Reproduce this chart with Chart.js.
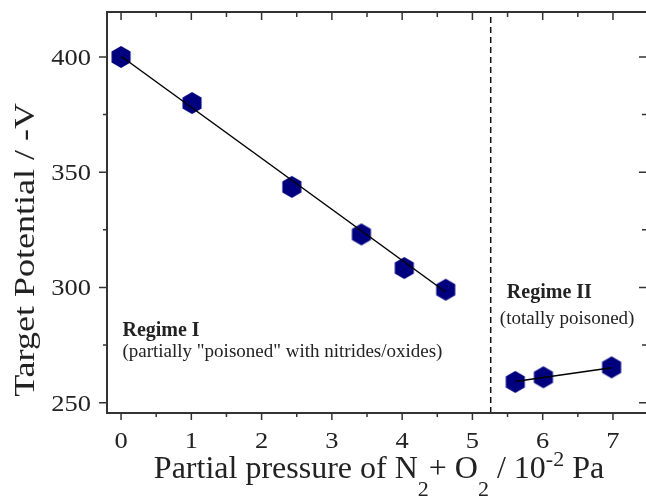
<!DOCTYPE html>
<html>
<head>
<meta charset="utf-8">
<script src="https://cdn.jsdelivr.net/npm/chart.js@4.4.1/dist/chart.umd.min.js"></script>
<style>
  html, body { margin: 0; padding: 0; background: #fff; overflow: hidden; }
  canvas { display: block; }
</style>
</head>
<body>
<canvas id="mainChart" width="646" height="501"></canvas>
<script>
// measured points, regime I (partially poisoned) and regime II (totally poisoned)
const pressure1 = [0, 1.01, 2.43, 3.42, 4.03, 4.62];
const potential1 = [400, 380, 343.6, 323, 308.4, 299];
const pressure2 = [5.61, 6.01, 6.98];
const potential2 = [259, 261, 265.3];

// linear fits drawn through each regime
const fitX1 = [0, 4.62];
const fitY1 = [400.3, 298];
const fitX2 = [5.61, 6.98];
const fitY2 = [259.2, 265.1];

// boundary between the two regimes
const regimeBoundary = 5.26;

// axis ticks
const xTicks = [0, 1, 2, 3, 4, 5, 6, 7];
const xMinor = [0.5, 1.5, 2.5, 3.5, 4.5, 5.5, 6.5];
const yTicks = [250, 300, 350, 400];
const yMinor = [275, 325, 375];
const xRange = [-0.2, 7.47];
const yRange = [245.5, 419.5];

const SERIF = "'Liberation Serif', 'Times New Roman', serif";

const toPts = (xs, ys) => xs.map((x, i) => ({ x: x, y: ys[i] }));

// hexagon marker as a canvas pointStyle
function hexMarker(r, color) {
    const c = document.createElement('canvas');
    const w = Math.ceil(r * 2 + 2), h = Math.ceil(r * 2 + 2);
    c.width = w; c.height = h;
    const g = c.getContext('2d');
    g.fillStyle = color;
    g.beginPath();
    for (let k = 0; k < 6; k++) {
        const a = Math.PI / 2 + k * Math.PI / 3;
        const px = w / 2 + r * Math.cos(a), py = h / 2 + r * Math.sin(a);
        k === 0 ? g.moveTo(px, py) : g.lineTo(px, py);
    }
    g.closePath();
    g.fill();
    return c;
}
const hex = hexMarker(11, '#00007f');

// frame, ticks, tick labels, titles and regime notes
const framePlugin = {
    id: 'framePlugin',
    afterDraw(chart) {
        const ctx = chart.ctx, a = chart.chartArea;
        const xs = chart.scales.x, ys = chart.scales.y;
        ctx.save();
        ctx.strokeStyle = '#333';
        ctx.lineWidth = 2;
        // right edge of the box sits just past the canvas
        ctx.strokeRect(a.left, a.top, a.right - a.left + 2, a.bottom - a.top);

        ctx.lineWidth = 1.5;
        ctx.beginPath();
        const xt = (v, maj) => {
            const p = xs.getPixelForValue(v);
            ctx.moveTo(p, a.bottom); ctx.lineTo(p, a.bottom + (maj ? 7 : 4));
            ctx.moveTo(p, a.top); ctx.lineTo(p, a.top + (maj ? 8 : 5));
        };
        const yt = (v, maj) => {
            const p = ys.getPixelForValue(v);
            ctx.moveTo(a.left, p); ctx.lineTo(a.left - (maj ? 8 : 4), p);
            ctx.moveTo(a.right, p); ctx.lineTo(a.right - (maj ? 7 : 4), p);
        };
        xTicks.forEach(v => xt(v, true));
        xMinor.forEach(v => xt(v, false));
        yTicks.forEach(v => yt(v, true));
        yMinor.forEach(v => yt(v, false));
        ctx.stroke();

        // tick labels (slightly wide serif digits)
        ctx.fillStyle = '#222';
        ctx.font = '23px ' + SERIF;
        ctx.textBaseline = 'alphabetic';
        ctx.textAlign = 'center';
        xTicks.forEach(v => {
            ctx.save();
            ctx.translate(xs.getPixelForValue(v), a.bottom + 35);
            ctx.scale(1.15, 1);
            ctx.fillText(String(v), 0, 0);
            ctx.restore();
        });
        ctx.textAlign = 'right';
        yTicks.forEach(v => {
            ctx.save();
            ctx.translate(a.left - 16, ys.getPixelForValue(v) + 8);
            ctx.scale(1.15, 1);
            ctx.fillText(String(v), 0, 0);
            ctx.restore();
        });

        // y title
        ctx.save();
        ctx.translate(34, 250);
        ctx.rotate(-Math.PI / 2);
        ctx.scale(1.2, 1);
        ctx.textAlign = 'center';
        ctx.font = '30px ' + SERIF;
        ctx.fillText('Target Potential / -V', 0, 0);
        ctx.restore();

        // x title with sub/superscripts
        const parts = [
            ['Partial pressure of N', 0], ['2', 1], ['+ O', 0], ['2', 1],
            [' / 10', 0], ['-2', 2], [' Pa', 0]
        ];
        const fontFor = m => (m === 0 ? '32px ' : '22px ') + SERIF;
        let total = 0;
        parts.forEach(([t, m]) => { ctx.font = fontFor(m); total += ctx.measureText(t).width; });
        let cx = 379 - total / 2;
        const base = 478;
        ctx.textAlign = 'left';
        parts.forEach(([t, m]) => {
            ctx.font = fontFor(m);
            const dy = m === 1 ? 18 : (m === 2 ? -12 : 0);
            ctx.fillText(t, cx, base + dy);
            cx += ctx.measureText(t).width;
        });

        // regime notes
        ctx.textBaseline = 'middle';
        ctx.textAlign = 'left';
        ctx.font = 'bold 20px ' + SERIF;
        ctx.fillText('Regime I', xs.getPixelForValue(0.02), ys.getPixelForValue(281));
        ctx.fillText('Regime II', xs.getPixelForValue(5.49), ys.getPixelForValue(297.6));
        ctx.font = '19px ' + SERIF;
        ctx.fillText('(partially "poisoned" with nitrides/oxides)', xs.getPixelForValue(0.02), ys.getPixelForValue(272));
        ctx.fillText('(totally poisoned)', xs.getPixelForValue(5.39), ys.getPixelForValue(286.3));
        ctx.restore();
    }
};

const markerStyle = { pointStyle: hex, pointRadius: 11, showLine: false, order: 2 };
const fitStyle = { borderColor: '#000', borderWidth: 1.5, pointRadius: 0, showLine: true, order: 0 };

new Chart(document.getElementById('mainChart'), {
    type: 'scatter',
    data: {
        datasets: [
            Object.assign({ label: 'Regime I', data: toPts(pressure1, potential1) }, markerStyle),
            Object.assign({ label: 'Regime II', data: toPts(pressure2, potential2) }, markerStyle),
            Object.assign({ label: 'Fit I', data: toPts(fitX1, fitY1) }, fitStyle),
            Object.assign({ label: 'Fit II', data: toPts(fitX2, fitY2) }, fitStyle),
            { label: 'Boundary', data: toPts([regimeBoundary, regimeBoundary], yRange),
              borderColor: '#111', borderWidth: 1.5, borderDash: [6, 4], pointRadius: 0, showLine: true, order: 1 }
        ]
    },
    options: {
        responsive: false,
        animation: false,
        layout: { autoPadding: false, padding: { top: 12, right: 0, left: 0, bottom: 0 } },
        scales: {
            x: {
                type: 'linear', min: xRange[0], max: xRange[1],
                grid: { display: false }, border: { display: false },
                ticks: { display: false },
                afterFit: s => { s.height = 88; }
            },
            y: {
                type: 'linear', min: yRange[0], max: yRange[1],
                grid: { display: false }, border: { display: false },
                ticks: { display: false },
                afterFit: s => { s.width = 107; }
            }
        },
        plugins: { legend: { display: false }, tooltip: { enabled: false } }
    },
    plugins: [framePlugin]
});
</script>
</body>
</html>
